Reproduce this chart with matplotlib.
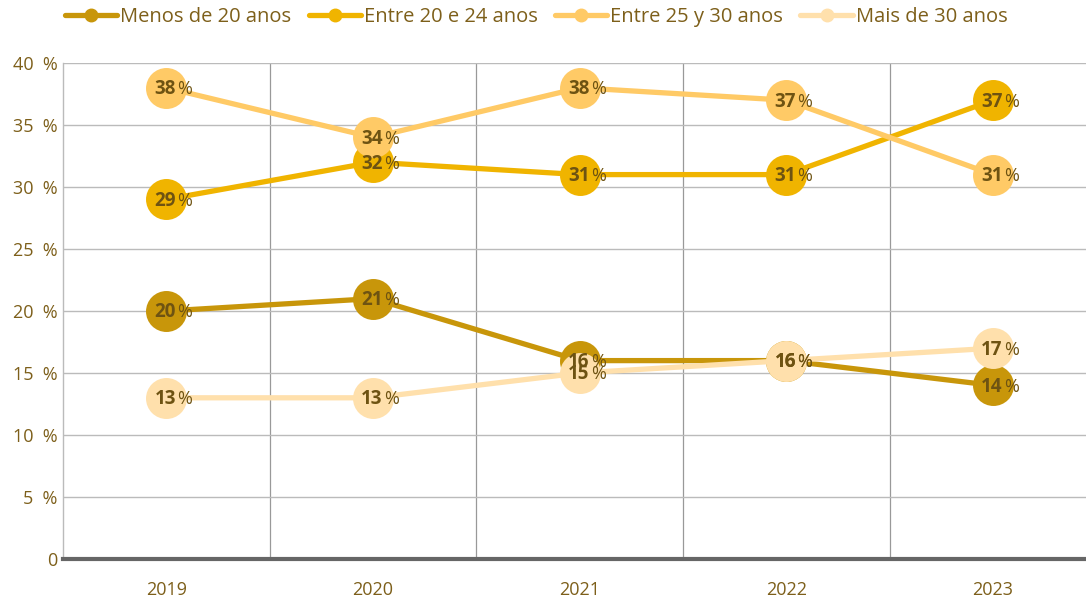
import matplotlib
matplotlib.use("Agg")
import matplotlib.pyplot as plt
from matplotlib.lines import Line2D

years = ["2019", "2020", "2021", "2022", "2023"]
series_names = ["Menos de 20 anos", "Entre 20 e 24 anos", "Entre 25 y 30 anos", "Mais de 30 anos"]
menos_20 = [20, 21, 16, 16, 14]
entre_20_24 = [29, 32, 31, 31, 37]
entre_25_30 = [38, 34, 38, 37, 31]
mais_30 = [13, 13, 15, 16, 17]
colors = ["#C8960A", "#F0B400", "#FFCA66", "#FFE0AC"]
yticks = [0, 5, 10, 15, 20, 25, 30, 35, 40]
ytick_labels = ["0", "5  %", "10  %", "15  %", "20  %", "25  %", "30  %", "35  %", "40  %"]

plt.rcParams['font.family'] = ['Open Sans', 'DejaVu Sans']
txt_color = "#7D5F1A"
lbl_color = "#6E5312"

fig = plt.figure(figsize=(10.86, 6.13), dpi=100)
ax = fig.add_axes([63/1086, 1-559/613, 1-63/1086, (559-63)/613])

x = list(range(len(years)))
all_series = [menos_20, entre_20_24, entre_25_30, mais_30]
for vals, col in zip(all_series, colors):
    ax.plot(x, vals, color=col, lw=3.8, marker='o', ms=29.5, mec='none', zorder=3, clip_on=False,
            solid_capstyle='round')

for vals in all_series:
    for xi, v in zip(x, vals):
        ax.annotate(f"{v}", (xi, v), xytext=(7, -1), textcoords='offset points',
                    ha='right', va='center', fontsize=13.5, fontweight='bold', color=lbl_color, zorder=5)
        ax.annotate("%", (xi, v), xytext=(8, -1), textcoords='offset points',
                    ha='left', va='center', fontsize=13, color=lbl_color, zorder=5)

ax.set_xlim(-0.5, 4.45)
ax.set_ylim(0, 40)
ax.set_yticks(yticks)
ax.set_yticklabels(ytick_labels)
ax.set_xticks(x)
ax.set_xticklabels(years)
ax.set_xticks([0.5, 1.5, 2.5, 3.5], minor=True)
ax.tick_params(axis='both', which='both', length=0, labelsize=13, colors=txt_color)
ax.tick_params(axis='x', pad=16)
ax.tick_params(axis='y', pad=4)
ax.grid(axis='y', which='major', color='#BBBBBB', lw=1)
ax.grid(axis='x', which='minor', color='#999999', lw=0.9)
ax.set_axisbelow(True)
for s in ['top', 'right']:
    ax.spines[s].set_visible(False)
ax.spines['left'].set_color('#BBBBBB')
ax.spines['left'].set_linewidth(1)
ax.spines['bottom'].set_color('#666666')
ax.spines['bottom'].set_linewidth(3)

handles = [Line2D([0], [0], color=c, lw=3.8, marker='o', ms=9, solid_capstyle='round') for c in colors]
leg = fig.legend(handles, series_names, loc='center left', bbox_to_anchor=(57/1086, 1-17/613), ncol=4,
                 frameon=False, fontsize=14.5, handlelength=2.6, handletextpad=0.15, columnspacing=0.85,
                 labelcolor=txt_color, borderaxespad=0)

fig.savefig("out.png", dpi=100, facecolor='white')
